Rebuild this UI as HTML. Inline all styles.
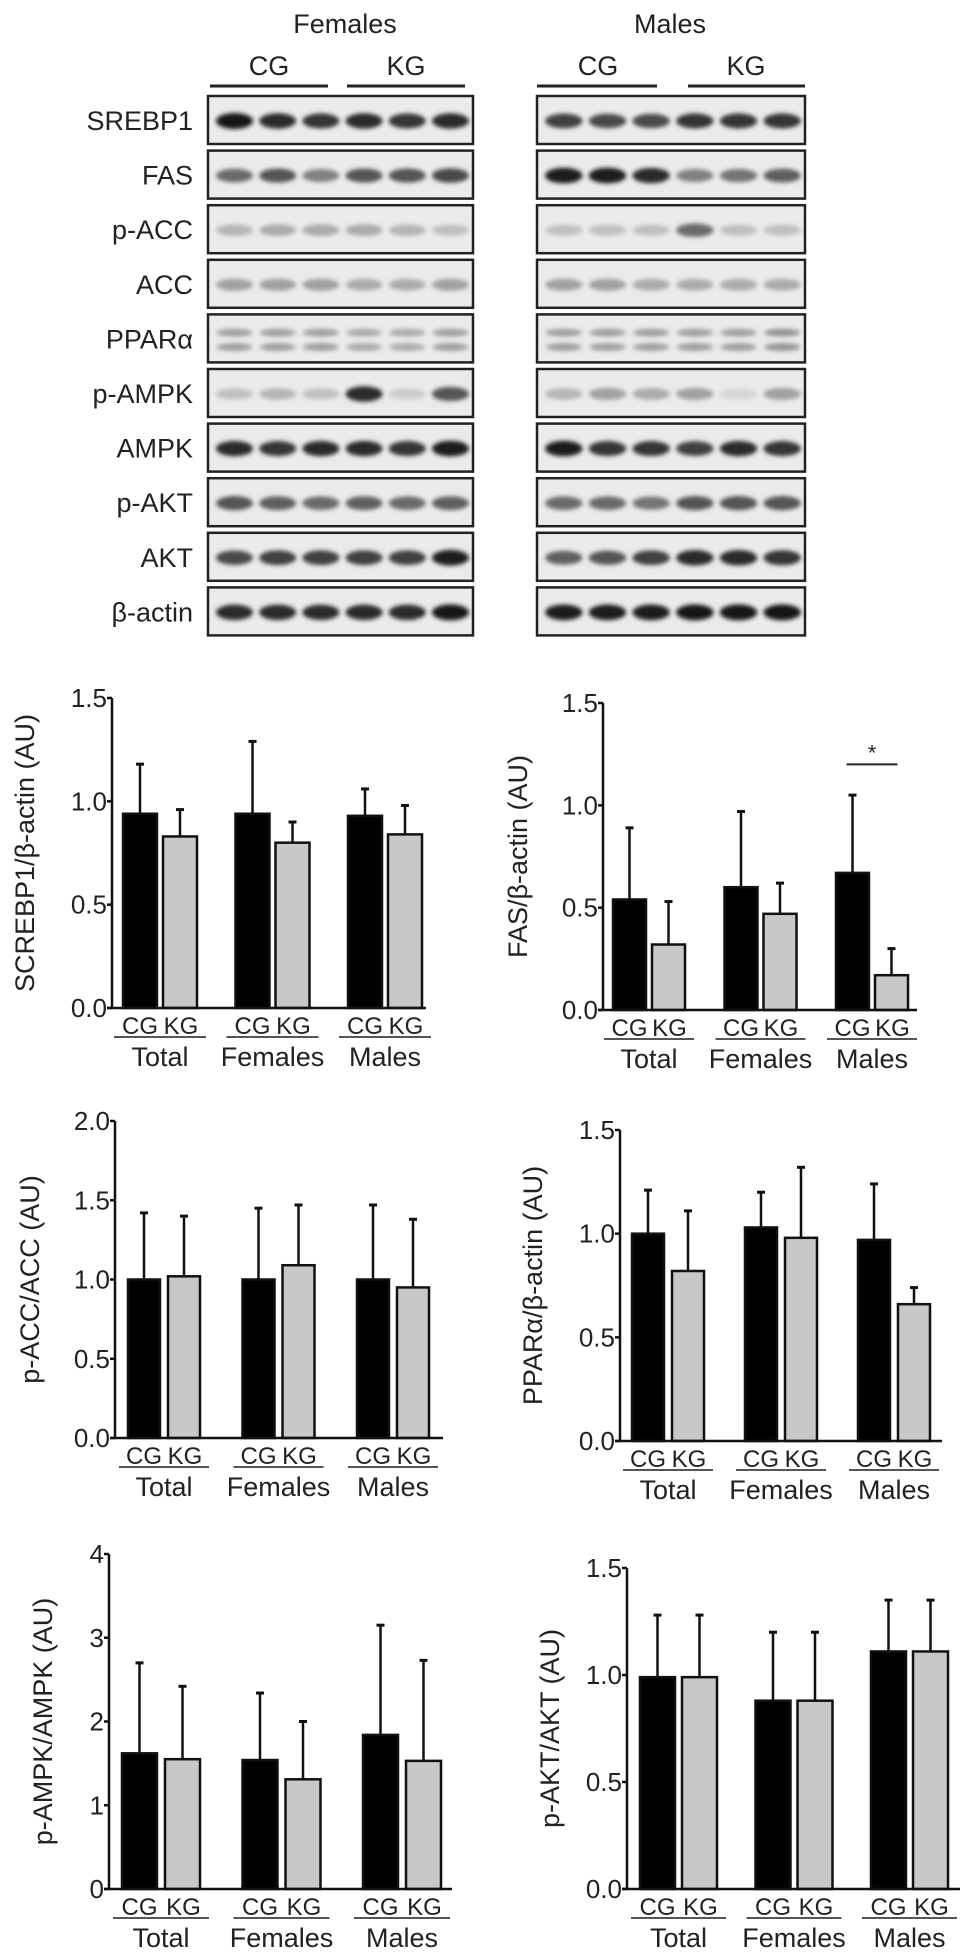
<!DOCTYPE html>
<html><head><meta charset="utf-8"><style>
html,body{margin:0;padding:0;background:#fff;}
svg{display:block;font-family:"Liberation Sans",Arial,sans-serif;}
</style></head><body>
<svg id="fig" width="969" height="1957" viewBox="0 0 969 1957" xmlns="http://www.w3.org/2000/svg">
<defs><filter id="blur" x="-20%" y="-100%" width="140%" height="300%"><feGaussianBlur stdDeviation="2.2"/></filter></defs>
<g id="blots"></g>
<g id="charts"></g>
</svg>
<script>
const NS="http://www.w3.org/2000/svg";
function mk(tag,attrs,parent,text){const e=document.createElementNS(NS,tag);for(const k in attrs)e.setAttribute(k,attrs[k]);if(text!==undefined)e.textContent=text;parent.appendChild(e);return e;}

// ---------- Western blot data ----------
const blotLabels=["SREBP1","FAS","p-ACC","ACC","PPARα","p-AMPK","AMPK","p-AKT","AKT","β-actin"];
const femaleIntensity=[[1,.9,.85,.9,.85,.9],[.6,.7,.5,.7,.7,.75],[.25,.3,.3,.3,.25,.2],[.35,.35,.35,.3,.3,.35],[.35,.35,.35,.3,.3,.35],[.2,.25,.2,.9,.15,.7],[.9,.85,.9,.9,.85,.95],[.7,.65,.6,.65,.6,.65],[.75,.8,.8,.8,.8,.95],[.9,.9,.9,.9,.9,1]];
const maleIntensity=[[.8,.75,.75,.85,.85,.85],[.95,.95,.9,.5,.55,.65],[.2,.2,.2,.6,.2,.2],[.35,.35,.3,.3,.3,.3],[.35,.35,.35,.35,.35,.4],[.25,.35,.3,.35,.1,.35],[.95,.85,.85,.8,.9,.85],[.6,.6,.55,.7,.7,.7],[.65,.7,.8,.9,.9,.85],[.95,.95,.95,1,1,1]];

const blots=document.getElementById('blots');
let t;
t=mk('text',{x:345,y:33,'font-size':27,'text-anchor':'middle',fill:'#222'},blots,'Females');

t=mk('text',{x:670,y:33,'font-size':27,'text-anchor':'middle',fill:'#222'},blots,'Males');

const grpHdr=[[269,210,328,'CG'],[406,347,465,'KG'],[598,537,657,'CG'],[746,688,805,'KG']];
grpHdr.forEach(g=>{
  t=mk('text',{x:g[0],y:75,'font-size':27,'text-anchor':'middle',fill:'#222'},blots,g[3]);
  
  const l=mk('line',{x1:g[1],x2:g[2],y1:86,y2:86,stroke:'#222','stroke-width':3},blots);
  
});
const boxes=[[208,473,femaleIntensity],[537,805,maleIntensity]];
blotLabels.forEach((lab,i)=>{
  const y=96+i*54.6,h=48;
  t=mk('text',{x:193,y:y+h/2+10,'font-size':27,'text-anchor':'end',fill:'#222'},blots,lab);
  
  boxes.forEach(b=>{
    const w=b[1]-b[0];
    const g=mk('g',{},blots);
    
    mk('rect',{x:b[0],y:y,width:w,height:h,fill:'#ebebeb'},g);
    const two=(i===4);
    b[2][i].forEach((v,k)=>{
      const cx=b[0]+w*(0.1+k*0.163);
      const c=Math.round(235-215*v);
      const col=`rgb(${c},${c},${c})`;
      if(two){
        mk('ellipse',{cx:cx,cy:y+h*0.38,rx:w*0.068,ry:4,fill:col,filter:'url(#blur)'},g);
        mk('ellipse',{cx:cx,cy:y+h*0.68,rx:w*0.068,ry:4,fill:col,filter:'url(#blur)'},g);
      } else {
        mk('ellipse',{cx:cx,cy:y+h*0.52,rx:w*0.07,ry:5+3*v,fill:col,filter:'url(#blur)'},g);
      }
    });
    mk('rect',{x:b[0],y:y,width:w,height:h,fill:'none',stroke:'#222','stroke-width':2.5},g);
  });
});

// ---------- Chart data ----------
const groups=["Total","Females","Males"];
const srebpCG=[0.94,0.94,0.93], srebpCGerr=[1.18,1.29,1.06], srebpKG=[0.83,0.80,0.84], srebpKGerr=[0.96,0.90,0.98];
const fasCG=[0.54,0.60,0.67], fasCGerr=[0.89,0.97,1.05], fasKG=[0.32,0.47,0.17], fasKGerr=[0.53,0.62,0.30];
const paccCG=[1.0,1.0,1.0], paccCGerr=[1.42,1.45,1.47], paccKG=[1.02,1.09,0.95], paccKGerr=[1.40,1.47,1.38];
const pparCG=[1.0,1.03,0.97], pparCGerr=[1.21,1.20,1.24], pparKG=[0.82,0.98,0.66], pparKGerr=[1.11,1.32,0.74];
const pampkCG=[1.62,1.54,1.84], pampkCGerr=[2.70,2.34,3.15], pampkKG=[1.55,1.31,1.53], pampkKGerr=[2.42,2.00,2.73];
const paktCG=[0.99,0.88,1.11], paktCGerr=[1.28,1.20,1.35], paktKG=[0.99,0.88,1.11], paktKGerr=[1.28,1.20,1.35];
const ticks15=[0,0.5,1.0,1.5], ticks15Labels=["0.0","0.5","1.0","1.5"];
const ticks20=[0,0.5,1.0,1.5,2.0], ticks20Labels=["0.0","0.5","1.0","1.5","2.0"];
const ticks4=[0,1,2,3,4], ticks4Labels=["0","1","2","3","4"];

const charts=[
 {name:'srebp1-chart',title:'SCREBP1/β-actin (AU)',ax:112,y0:1008,yT:698,max:1.5,ticks:ticks15,tl:ticks15Labels,cg0:123,bw:34,ko:40,pitch:112.5,end:426,tx:25,cg:srebpCG,cge:srebpCGerr,kg:srebpKG,kge:srebpKGerr},
 {name:'fas-chart',title:'FAS/β-actin (AU)',ax:603,y0:1010,yT:703,max:1.5,ticks:ticks15,tl:ticks15Labels,cg0:613,bw:33,ko:39,pitch:111.5,end:917,tx:518,cg:fasCG,cge:fasCGerr,kg:fasKG,kge:fasKGerr,star:2},
 {name:'pacc-chart',title:'p-ACC/ACC (AU)',ax:115,y0:1438,yT:1121,max:2,ticks:ticks20,tl:ticks20Labels,cg0:128,bw:32,ko:40,pitch:114.5,end:443,tx:30,cg:paccCG,cge:paccCGerr,kg:paccKG,kge:paccKGerr},
 {name:'ppar-chart',title:'PPARα/β-actin (AU)',ax:620,y0:1441,yT:1130,max:1.5,ticks:ticks15,tl:ticks15Labels,cg0:632,bw:32,ko:40,pitch:113,end:942,tx:533,cg:pparCG,cge:pparCGerr,kg:pparKG,kge:pparKGerr},
 {name:'pampk-chart',title:'p-AMPK/AMPK (AU)',ax:109,y0:1889,yT:1554,max:4,ticks:ticks4,tl:ticks4Labels,cg0:122,bw:35,ko:43,pitch:120.5,end:452,tx:43,cg:pampkCG,cge:pampkCGerr,kg:pampkKG,kge:pampkKGerr},
 {name:'pakt-chart',title:'p-AKT/AKT (AU)',ax:627,y0:1889,yT:1568,max:1.5,ticks:ticks15,tl:ticks15Labels,cg0:640,bw:35,ko:42,pitch:115.5,end:960,tx:550,cg:paktCG,cge:paktCGerr,kg:paktKG,kge:paktKGerr}
];
const root=document.getElementById('charts');
charts.forEach(c=>{
  const g=mk('g',{},root);
  
  const Y=v=>c.y0-(v/c.max)*(c.y0-c.yT);
  const drawBar=(x,v,e,fill,nm)=>{
    const cx=x+c.bw/2;
    const eb=mk('line',{x1:cx,x2:cx,y1:Y(v),y2:Y(e),stroke:'#111','stroke-width':2.5},g);
    
    const cap=mk('line',{x1:cx-4,x2:cx+4,y1:Y(e),y2:Y(e),stroke:'#111','stroke-width':3},g);
    
    const r=mk('rect',{x:x,y:Y(v),width:c.bw,height:c.y0-Y(v),fill:fill,stroke:'#111','stroke-width':2.5},g);
    
  };
  groups.forEach((gn,i)=>{
    const xc=c.cg0+i*c.pitch, xk=xc+c.ko;
    drawBar(xc,c.cg[i],c.cge[i],'#000','bar-cg-'+gn.toLowerCase());
    drawBar(xk,c.kg[i],c.kge[i],'#c8c8c8','bar-kg-'+gn.toLowerCase());
    let tt=mk('text',{x:xc+c.bw/2,y:c.y0+26,'font-size':24,'text-anchor':'middle',fill:'#222'},g,'CG');
    
    tt=mk('text',{x:xk+c.bw/2+1,y:c.y0+26,'font-size':24,'text-anchor':'middle',fill:'#222'},g,'KG');
    
    const ul=mk('line',{x1:xc-9,x2:xk+c.bw+9,y1:c.y0+29,y2:c.y0+29,stroke:'#555','stroke-width':2},g);
    
    tt=mk('text',{x:(xc+xk+c.bw)/2,y:c.y0+58,'font-size':27,'text-anchor':'middle',fill:'#222'},g,gn);
    
  });
  const ya=mk('line',{x1:c.ax,x2:c.ax,y1:c.yT,y2:c.y0,stroke:'#111','stroke-width':2.5},g);
  
  const xa=mk('line',{x1:c.ax-5,x2:c.end,y1:c.y0,y2:c.y0,stroke:'#111','stroke-width':2.5},g);
  
  c.ticks.forEach((v,k)=>{
    const tk=mk('line',{x1:c.ax-5,x2:c.ax,y1:Y(v),y2:Y(v),stroke:'#111','stroke-width':2.5},g);
    
    const tl=mk('text',{x:c.ax-5,y:Y(v)+9,'font-size':26,'text-anchor':'end',fill:'#222'},g,c.tl[k]);
    
  });
  const my=(c.y0+c.yT)/2;
  const ti=mk('text',{x:c.tx,y:my,'font-size':27,'text-anchor':'middle',fill:'#222',transform:`rotate(-90 ${c.tx} ${my})`,dy:9},g,c.title);
  
  if(c.star!==undefined){
    const i=c.star, xc=c.cg0+i*c.pitch, xk=xc+c.ko;
    const sy=Y(Math.max(c.cge[i],c.kge[i])+0.15);
    const sl=mk('line',{x1:xc+c.bw/2-6,x2:xk+c.bw/2+6,y1:sy,y2:sy,stroke:'#222','stroke-width':2},g);
    
    const st=mk('text',{x:(xc+xk+c.bw)/2,y:sy-4,'font-size':22,'text-anchor':'middle',fill:'#222'},g,'*');
    
  }
});
</script>
</body></html>
